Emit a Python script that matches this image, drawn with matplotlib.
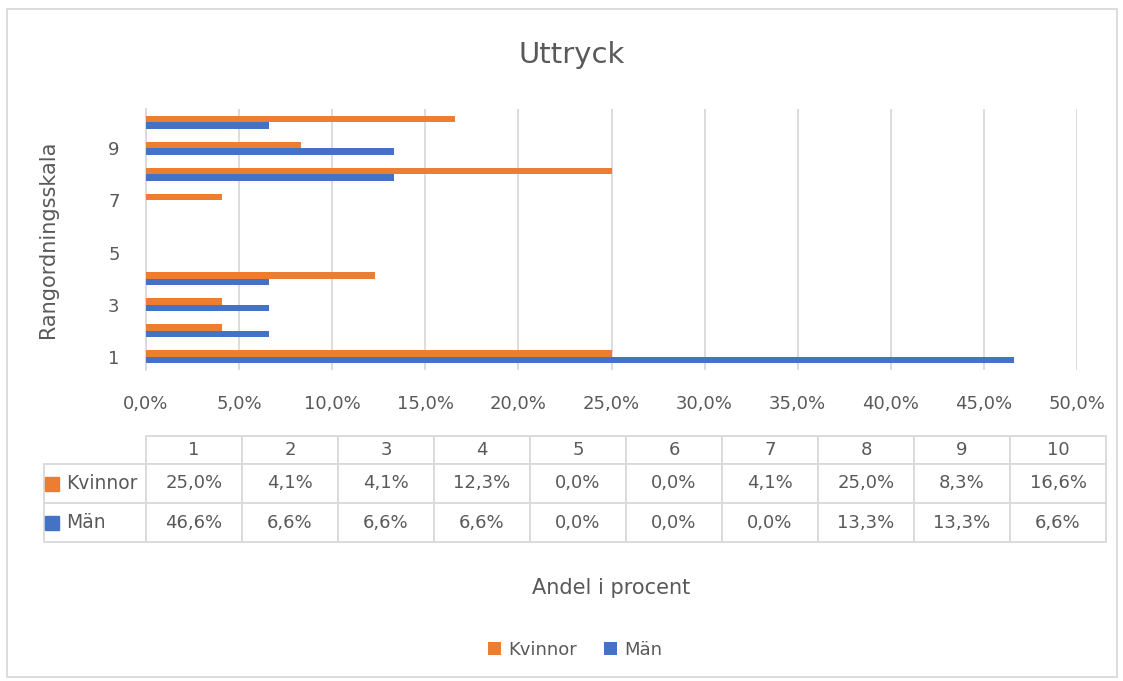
import numpy as np
import matplotlib
matplotlib.use("Agg")
import matplotlib.pyplot as plt
from matplotlib.patches import Rectangle
from matplotlib.ticker import FuncFormatter

categories = [1, 2, 3, 4, 5, 6, 7, 8, 9, 10]
kvinnor = [25.0, 4.1, 4.1, 12.3, 0.0, 0.0, 4.1, 25.0, 8.3, 16.6]
man = [46.6, 6.6, 6.6, 6.6, 0.0, 0.0, 0.0, 13.3, 13.3, 6.6]
series_names = ["Kvinnor", "Män"]
xticks = np.arange(0, 50.1, 5)
yticks = [1, 3, 5, 7, 9]

orange = "#ED7D31"
blue = "#4472C4"
txt = "#595959"
grid = "#d9d9d9"

plt.rcParams["font.family"] = ["DejaVu Sans"]


def pct(v):
    return ("%.1f%%" % v).replace(".", ",")


W, H = 1123, 681
AW, AH = 931, 261  # axes size in px
fig = plt.figure(figsize=(W / 100, H / 100), dpi=100)
ax = fig.add_axes([146 / W, 1 - 370 / H, AW / W, AH / H])

y = np.array(categories)
h = 0.25
ax.barh(y + h / 2, kvinnor, height=h, color=orange, label=series_names[0], zorder=3)
ax.barh(y - h / 2, man, height=h, color=blue, label=series_names[1], zorder=3)

ax.set_xlim(0, 50)
ax.set_ylim(0.5, 10.5)
ax.set_xticks(xticks)
ax.xaxis.set_major_formatter(FuncFormatter(lambda v, p: pct(v)))
ax.set_yticks(yticks)
ax.tick_params(axis="both", length=0, labelsize=13, labelcolor=txt)
ax.tick_params(axis="x", pad=18)
ax.tick_params(axis="y", pad=19)
ax.grid(axis="x", color=grid, lw=1.3, zorder=0)
for s in ["top", "right", "bottom"]:
    ax.spines[s].set_visible(False)
ax.spines["left"].set_color(grid)
ax.spines["left"].set_linewidth(1.3)

ax.set_ylabel("Rangordningsskala", fontsize=15, color=txt)
ax.yaxis.set_label_coords((58 - 146) / AW, 0.5)
ax.set_xlabel("Andel i procent", fontsize=15, color=txt)
ax.xaxis.set_label_coords(0.5, (370 - 578) / AH)

fig.text(0.509, 1 - 55 / H, "Uttryck", fontsize=21, color=txt, ha="center", va="center")

# data table; widths/heights in axes fractions so the bbox scale stays 1
cell_text = [[pct(v) for v in kvinnor], [pct(v) for v in man]]
tab = ax.table(cellText=cell_text, rowLabels=series_names,
               colLabels=[str(c) for c in categories],
               cellLoc="center", rowLoc="left",
               bbox=[0, (370 - 542) / AH, 960 / AW, 106 / AH])
tab.auto_set_font_size(False)
for (r, c), cell in tab.get_celld().items():
    cell.set_edgecolor(grid)
    cell.set_linewidth(1.3)
    cell.get_text().set_color(txt)
    cell.get_text().set_fontsize(13)
    cell.set_width((109 if c == -1 else 96) / AW)
    cell.set_height((28 if r == 0 else 39) / AH)
    if c == -1:
        cell.PAD = 23 / 109
        cell.get_text().set_fontsize(13.5)

# colored keys in the table row labels
for i, col in enumerate([orange, blue]):
    yc = [484, 523][i]
    fig.patches.append(Rectangle((45 / W, 1 - (yc + 7) / H), 14 / W, 14 / H,
                                 transform=fig.transFigure, color=col))

fig.legend(handles=ax.patches[:1] + ax.patches[10:11], labels=series_names,
           loc="center", bbox_to_anchor=(0.512, 1 - 650 / H), ncol=2, frameon=False,
           fontsize=13, labelcolor=txt, handlelength=0.7, handleheight=0.7,
           handletextpad=0.4, columnspacing=1.5)

fig.patches.append(Rectangle((7 / W, 4 / H), 1110 / W, 668 / H, transform=fig.transFigure,
                             fill=False, edgecolor=grid, lw=1.3))

fig.savefig("out.png", dpi=100)
